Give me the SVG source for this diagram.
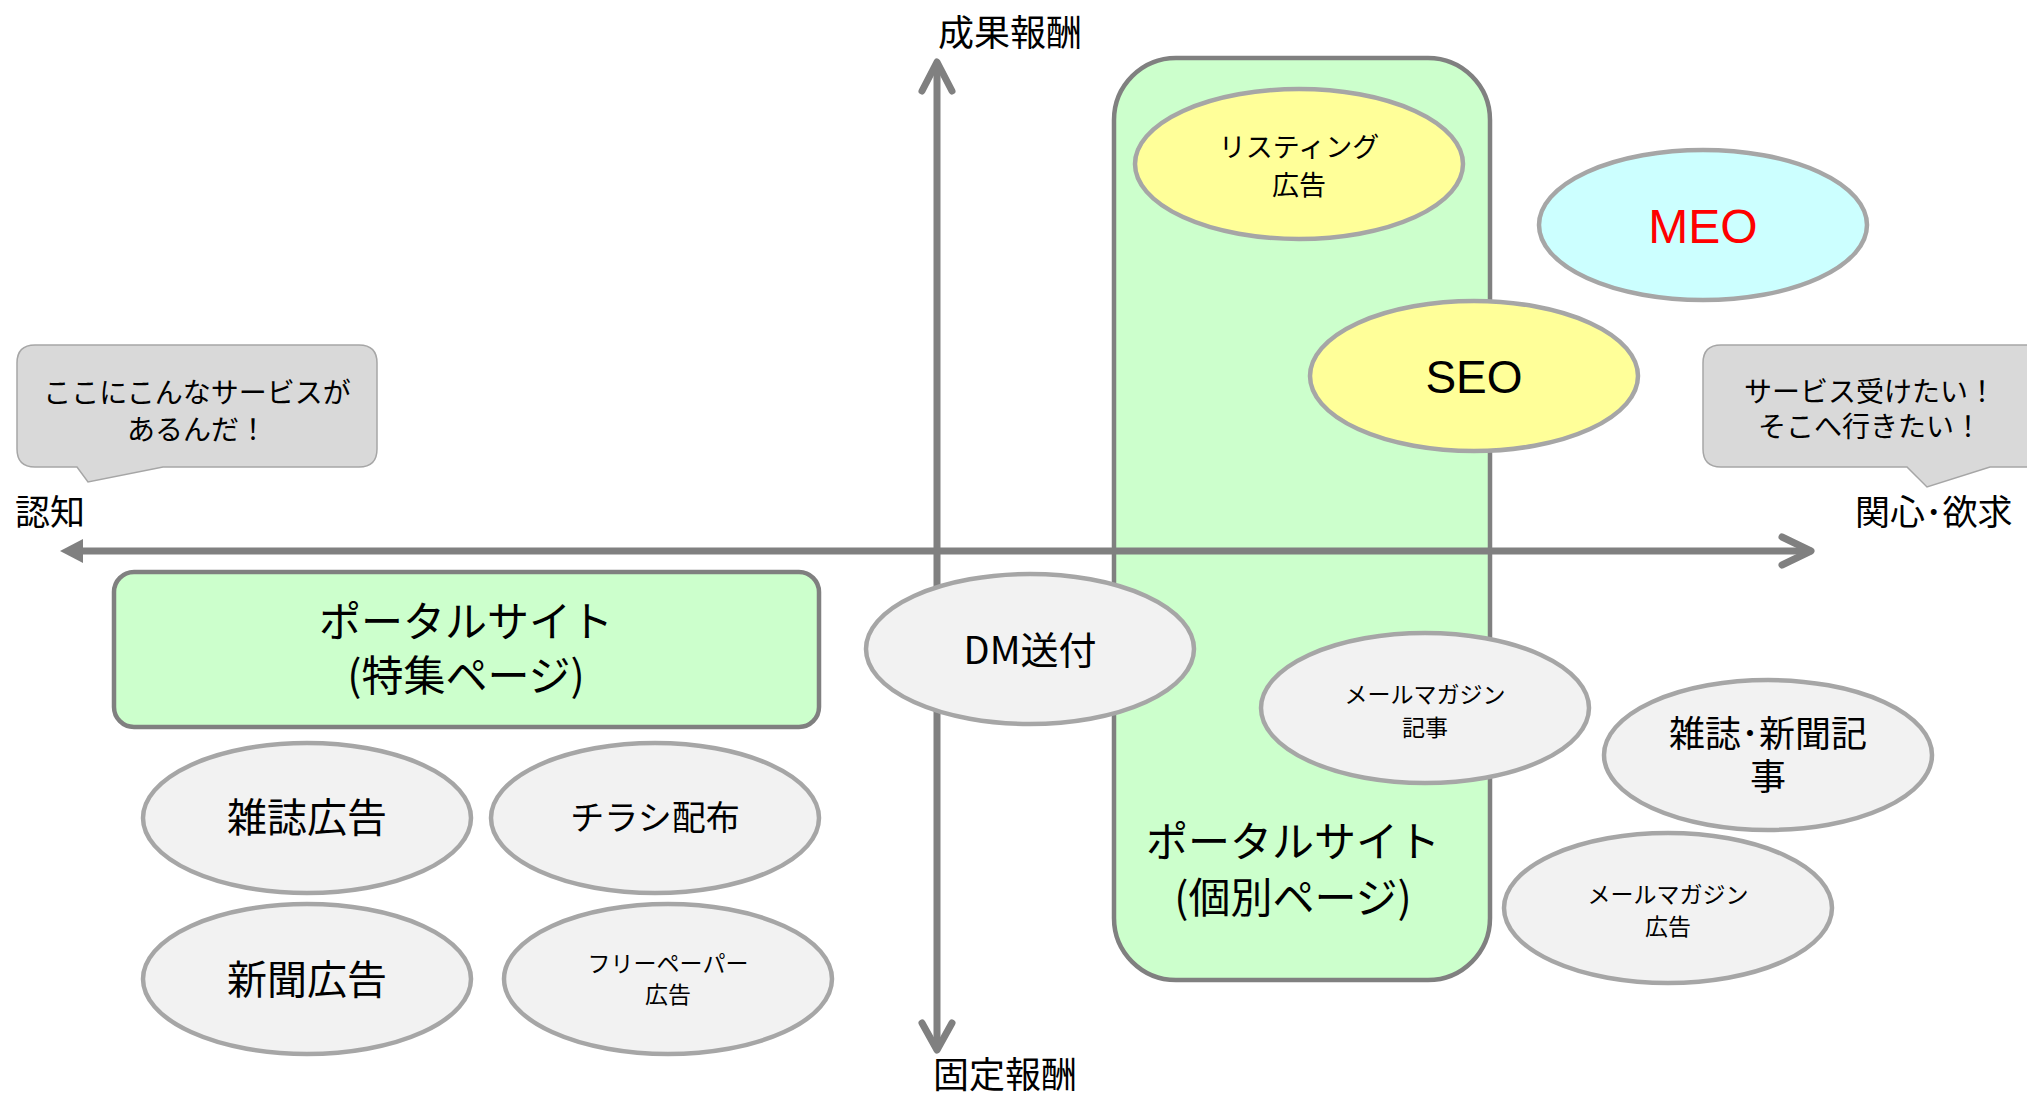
<svg xmlns="http://www.w3.org/2000/svg" width="2027" height="1094" viewBox="0 0 2027 1094">
<defs>
<style>
text{font-family:"Noto Sans CJK JP","Noto Sans",sans-serif;fill:#000;text-anchor:middle}
.lat{font-family:"Liberation Sans",Arial,sans-serif}
.ell{stroke:#a6a6a6;stroke-width:4.5}
.gray{fill:#f2f2f2}
.yel{fill:#ffff99}
.grn{fill:#ccffcc;stroke:#808080;stroke-width:4.5}
.bub{fill:#d9d9d9;stroke:#a6a6a6;stroke-width:1.5}
.ax{stroke:#808080;stroke-width:7;fill:none;stroke-linecap:round;stroke-linejoin:round}
</style>
</defs>
<rect width="2027" height="1094" fill="#fff"/>

<g id="portal-individual">
<rect class="grn" x="1114" y="58" width="376" height="922" rx="62" ry="62"/>
</g>

<g id="connectors">
<line class="ax" x1="78" y1="551" x2="1810" y2="551" stroke-linecap="butt"/>
<polygon points="60,551 83,539 83,563" fill="#808080"/>
<polyline class="ax" points="1782,537 1811,551 1782,565"/>
<line class="ax" x1="937" y1="64" x2="937" y2="1048"/>
<polyline class="ax" points="922,91 937,62 952,91"/>
<polyline class="ax" points="922,1023 937,1050 952,1023"/>
</g>

<g id="portal-individual-label">
<text x="1293" y="857" font-size="42">ポータルサイト</text>
<text x="1293" y="913" font-size="42">(個別ページ)</text>
</g>

<g id="bubble-left">
<path class="bub" d="M35 345H359Q377 345 377 363V449Q377 467 359 467H163L88 482L77 467H35Q17 467 17 449V363Q17 345 35 345Z"/>
<text x="197" y="403" font-size="28">ここにこんなサービスが</text>
<text x="197" y="440" font-size="28">あるんだ！</text>
</g>

<g id="bubble-right">
<path class="bub" d="M1721 345H2050V467H1990L1927 487L1907 467H1721Q1703 467 1703 449V363Q1703 345 1721 345Z"/>
<text x="1870" y="402" font-size="28">サービス受けたい！</text>
<text x="1870" y="437" font-size="28">そこへ行きたい！</text>
</g>

<g id="axis-labels">
<text x="938" y="46" font-size="36" text-anchor="start" style="text-anchor:start">成果報酬</text>
<text x="933" y="1088" font-size="36" style="text-anchor:start">固定報酬</text>
<text x="15" y="525" font-size="35" style="text-anchor:start">認知</text>
<text x="1855" y="525" font-size="35" style="text-anchor:start">関心･欲求</text>
</g>

<g id="portal-feature">
<rect class="grn" x="114" y="572" width="705" height="155" rx="20" ry="20"/>
<text x="466" y="637" font-size="42">ポータルサイト</text>
<text x="466" y="691" font-size="42">(特集ページ)</text>
</g>

<g id="listing">
<ellipse class="ell yel" cx="1299" cy="164" rx="164" ry="75"/>
<text x="1299" y="157" font-size="27">リスティング</text>
<text x="1299" y="195" font-size="27">広告</text>
</g>

<g id="meo">
<ellipse class="ell" fill="#ccffff" cx="1703" cy="225" rx="164" ry="75"/>
<text class="lat" x="1703" y="243" font-size="48" style="fill:#ff0000">MEO</text>
</g>

<g id="seo">
<ellipse class="ell yel" cx="1474" cy="376" rx="164" ry="75"/>
<text class="lat" x="1474" y="393" font-size="46">SEO</text>
</g>

<g id="dm">
<ellipse class="ell gray" cx="1030" cy="649" rx="164" ry="75"/>
<text x="1030" y="664" font-size="38">DM送付</text>
</g>

<g id="mailmag-article">
<ellipse class="ell gray" cx="1425" cy="708" rx="164" ry="75"/>
<text x="1425" y="703" font-size="23">メールマガジン</text>
<text x="1425" y="736" font-size="23">記事</text>
</g>

<g id="magazine-news-article">
<ellipse class="ell gray" cx="1768" cy="755" rx="164" ry="75"/>
<text x="1768" y="747" font-size="36">雑誌･新聞記</text>
<text x="1768" y="790" font-size="36">事</text>
</g>

<g id="mailmag-ad">
<ellipse class="ell gray" cx="1668" cy="908" rx="164" ry="75"/>
<text x="1668" y="903" font-size="23">メールマガジン</text>
<text x="1668" y="935" font-size="23">広告</text>
</g>

<g id="magazine-ad">
<ellipse class="ell gray" cx="307" cy="818" rx="164" ry="75"/>
<text x="307" y="832" font-size="40">雑誌広告</text>
</g>

<g id="flyer">
<ellipse class="ell gray" cx="655" cy="818" rx="164" ry="75"/>
<text x="655" y="830" font-size="34">チラシ配布</text>
</g>

<g id="newspaper-ad">
<ellipse class="ell gray" cx="307" cy="979" rx="164" ry="75"/>
<text x="307" y="994" font-size="40">新聞広告</text>
</g>

<g id="freepaper-ad">
<ellipse class="ell gray" cx="668" cy="979" rx="164" ry="75"/>
<text x="668" y="972" font-size="23">フリーペーパー</text>
<text x="668" y="1003" font-size="23">広告</text>
</g>
</svg>
